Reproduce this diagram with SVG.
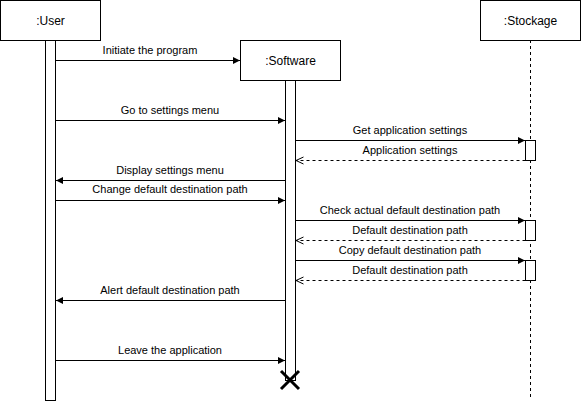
<svg xmlns="http://www.w3.org/2000/svg" width="581" height="401" viewBox="0 0 581 401">
<style>
.box{fill:#fff;stroke:#000;stroke-width:1}
.t{font-family:"Liberation Sans",Arial,sans-serif;font-size:12px;fill:#000;text-anchor:middle}
.l{font-family:"Liberation Sans",Arial,sans-serif;font-size:11px;fill:#000;text-anchor:middle}
.m{stroke:#000;stroke-width:1;fill:none}
.sync{marker-end:url(#fill)}
.ret{stroke-dasharray:3 3;marker-end:url(#open)}
</style>
<defs>
<marker id="fill" markerWidth="8" markerHeight="8" refX="7" refY="4" orient="auto" markerUnits="userSpaceOnUse">
<path d="M0,0.5 L7,4 L0,7.5 Z" fill="#000"/>
</marker>
<marker id="open" markerWidth="8" markerHeight="10" refX="7.5" refY="5" orient="auto" markerUnits="userSpaceOnUse">
<path d="M0,1.5 L7.5,5 L0,8.5" fill="none" stroke="#000" stroke-width="1"/>
</marker>
</defs>
<rect width="581" height="401" fill="#fff"/>
<g id="stockage-lifeline">
<line x1="530.5" y1="40" x2="530.5" y2="400" stroke="#000" stroke-dasharray="3 3"/>
</g>
<g id="user">
<rect class="box" x="0.5" y="0.5" width="100" height="40"/>
<text class="t" x="50.5" y="25">:User</text>
<rect class="box" x="45.5" y="40.5" width="10" height="360"/>
</g>
<g id="software">
<rect class="box" x="240.5" y="40.5" width="100" height="40"/>
<text class="t" x="290.5" y="65">:Software</text>
<rect class="box" x="285.5" y="80.5" width="10" height="300"/>
<path d="M281,371 L299,389 M299,371 L281,389" stroke="#000" stroke-width="3" fill="none"/>
</g>
<g id="stockage">
<rect class="box" x="480.5" y="0.5" width="100" height="40"/>
<text class="t" x="530.5" y="25">:Stockage</text>
<rect class="box" x="525.5" y="140.5" width="10" height="20"/>
<rect class="box" x="525.5" y="220.5" width="10" height="20"/>
<rect class="box" x="525.5" y="260.5" width="10" height="20"/>
</g>
<g id="connectors">
<line class="m sync" x1="55.5" y1="60.5" x2="240" y2="60.5"/>
<text class="l" x="150" y="54">Initiate the program</text>
<line class="m sync" x1="55.5" y1="120.5" x2="285" y2="120.5"/>
<text class="l" x="170" y="114">Go to settings menu</text>
<line class="m sync" x1="295.5" y1="140.5" x2="525" y2="140.5"/>
<text class="l" x="410" y="134">Get application settings</text>
<line class="m ret" x1="525.5" y1="160.5" x2="296" y2="160.5"/>
<text class="l" x="410" y="154">Application settings</text>
<line class="m sync" x1="285.5" y1="180.5" x2="56" y2="180.5"/>
<text class="l" x="170" y="174">Display settings menu</text>
<line class="m sync" x1="55.5" y1="200.5" x2="285" y2="200.5"/>
<text class="l" x="170" y="193">Change default destination path</text>
<line class="m sync" x1="295.5" y1="220.5" x2="525" y2="220.5"/>
<text class="l" x="410" y="214">Check actual default destination path</text>
<line class="m ret" x1="525.5" y1="240.5" x2="296" y2="240.5"/>
<text class="l" x="410" y="234">Default destination path</text>
<line class="m sync" x1="295.5" y1="260.5" x2="525" y2="260.5"/>
<text class="l" x="410" y="254">Copy default destination path</text>
<line class="m ret" x1="525.5" y1="280.5" x2="296" y2="280.5"/>
<text class="l" x="410" y="274">Default destination path</text>
<line class="m sync" x1="285.5" y1="300.5" x2="56" y2="300.5"/>
<text class="l" x="170" y="294">Alert default destination path</text>
<line class="m sync" x1="55.5" y1="360.5" x2="285" y2="360.5"/>
<text class="l" x="170" y="354">Leave the application</text>
</g>
</svg>
